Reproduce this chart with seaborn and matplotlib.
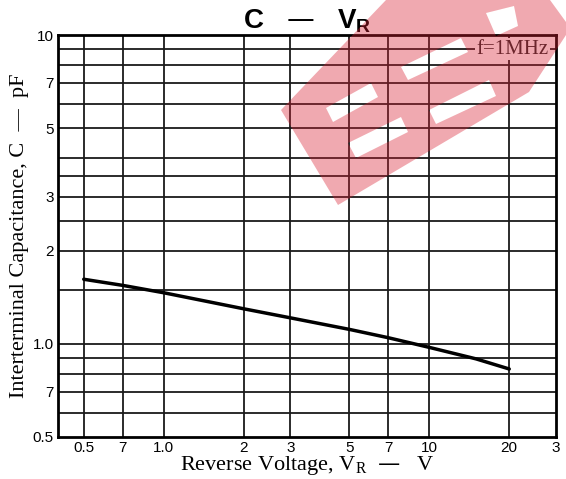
import matplotlib
matplotlib.use("Agg")
import matplotlib.pyplot as plt
import seaborn as sns
from matplotlib.path import Path
from matplotlib.patches import PathPatch
from matplotlib.ticker import FixedLocator, FixedFormatter, NullLocator

# C - VR curve
vr = [0.5, 0.7, 1.0, 2, 3, 5, 7, 10, 15, 20]
cap = [1.62, 1.548, 1.465, 1.30, 1.215, 1.115, 1.048, 0.975, 0.895, 0.83]

x_ticks = [0.5, 0.7, 1.0, 2, 3, 5, 7, 10, 20, 30]
x_labels = ["0.5", "7", "1.0", "2", "3", "5", "7", "10", "20", "3"]
y_ticks = [0.5, 0.7, 1.0, 2, 3, 5, 7, 10]
y_labels = ["0.5", "7", "1.0", "2", "3", "5", "7", "10"]
x_grid = [0.5, 0.7, 1.0, 2, 3, 5, 7, 10, 20]
y_grid = [0.6, 0.7, 0.8, 0.9, 1.0, 1.5, 2, 2.5, 3, 3.5, 4, 5, 6, 7, 8, 9]

sns.set_theme(style="white")
plt.rcParams["font.family"] = ["Liberation Sans", "DejaVu Sans"]

fig = plt.figure(figsize=(5.66, 4.79), dpi=100)
ax = fig.add_axes([58 / 566, 1 - 437 / 479, (556 - 58) / 566, (437 - 35) / 479])
ax.set_xscale("log")
ax.set_yscale("log")
ax.set_xlim(0.4, 30)
ax.set_ylim(0.5, 10)

for xv in x_grid:
    ax.axvline(xv, color="#1a1a1a", lw=1.3, zorder=1)
for yv in y_grid:
    ax.axhline(yv, color="#1a1a1a", lw=1.3, zorder=1)

sns.lineplot(x=vr, y=cap, ax=ax, color="black", lw=2.5, zorder=3)

ax.xaxis.set_major_locator(FixedLocator(x_ticks))
ax.xaxis.set_major_formatter(FixedFormatter(x_labels))
ax.xaxis.set_minor_locator(NullLocator())
ax.yaxis.set_major_locator(FixedLocator(y_ticks))
ax.yaxis.set_major_formatter(FixedFormatter(y_labels))
ax.yaxis.set_minor_locator(NullLocator())
ax.tick_params(length=0, labelsize=11, colors="black", pad=3)
for sp in ax.spines.values():
    sp.set_color("black")
    sp.set_linewidth(2)

ax.set_xlabel(r"Reverse Voltage, V$_\mathregular{R}$  —   V", family="Liberation Serif",
              fontsize=16, labelpad=-1, color="black")
ax.set_ylabel("Interterminal Capacitance, C  —  pF", family="Liberation Serif",
              fontsize=16, labelpad=3, color="black")
ax.set_title(r"C   —   V$_\mathregular{R}$", fontsize=20, fontweight="bold", pad=5, color="black")

ax.text(0.985, 9, "f=1MHz", transform=ax.get_yaxis_transform(), ha="right", va="center",
        family="Liberation Serif", fontsize=15, color="#2a2a2a",
        bbox=dict(facecolor="white", edgecolor="none", pad=1), zorder=4)


# red watermark logo over the top right (outline with letter cut-outs), pixel coords
def ring(pts, ccw):
    p = [(x / 566, 1 - y / 479) for x, y in pts]
    area = sum(p[i][0] * p[(i + 1) % len(p)][1] - p[(i + 1) % len(p)][0] * p[i][1] for i in range(len(p)))
    if (area > 0) != ccw:
        p = p[::-1]
    return p


outline = [(281, 110), (338, 205), (529, 92), (566, 35), (566, 22), (550, 0), (386, 0)]
holes = [
    [(326, 108), (371, 83), (378, 97), (333, 122)],
    [(348, 143), (401, 117), (408, 132), (356, 158)],
    [(401, 67), (461, 38), (468, 52), (408, 80)],
    [(429, 110), (489, 80), (496, 96), (436, 124)],
    [(486, 13), (514, 6), (518, 26), (496, 36)],
]
verts, codes = [], []
for i, pts in enumerate([outline] + holes):
    r = ring(pts, i == 0)
    verts += r + [r[0]]
    codes += [Path.MOVETO] + [Path.LINETO] * (len(r) - 1) + [Path.CLOSEPOLY]
fig.add_artist(PathPatch(Path(verts, codes), transform=fig.transFigure, facecolor="#d81e30",
                         alpha=0.38, edgecolor="none", zorder=10))

fig.savefig("out.png", dpi=100)
